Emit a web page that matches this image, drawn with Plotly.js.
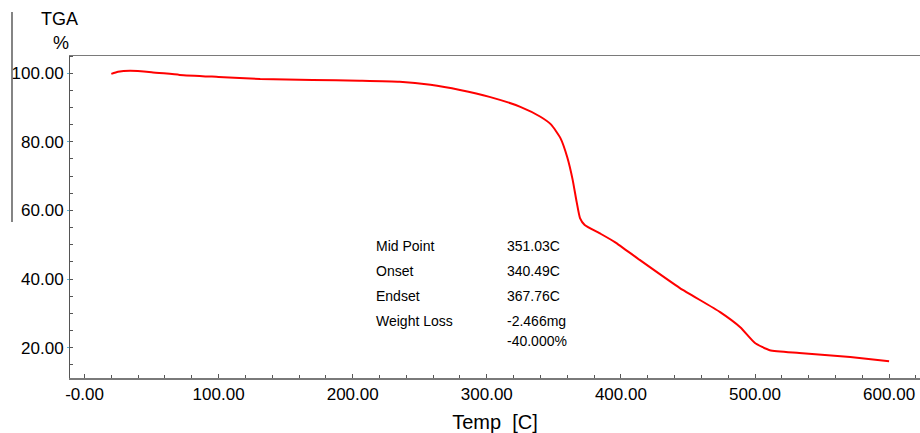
<!DOCTYPE html>
<html><head><meta charset="utf-8">
<script src="https://cdn.plot.ly/plotly-3.0.1.min.js"></script>
<style>html,body{margin:0;padding:0;background:#fff}#chart{width:920px;height:433px}</style>
</head><body><div id="chart"></div>
<script>
const tempC = [20, 25, 34, 50, 71, 100, 131, 170, 205, 235, 258, 280, 302, 325, 340, 348, 355, 360, 364, 367, 369.5, 373, 384, 395.5, 414, 444, 474, 489, 500, 511, 533, 571, 600];
const weightPct = [99.8, 100.4, 100.7, 100.3, 99.5, 98.9, 98.3, 98.0, 97.8, 97.5, 96.6, 95.1, 93.1, 90.2, 87.3, 85.0, 81.0, 75.5, 69.0, 62.5, 57.8, 55.8, 53.4, 50.8, 45.6, 37.4, 30.4, 26.0, 21.4, 19.3, 18.5, 17.3, 16.1];
const xTickVals = [0, 100, 200, 300, 400, 500, 600];
const xTickText = ["-0.00", "100.00", "200.00", "300.00", "400.00", "500.00", "600.00"];
const yTickVals = [20, 40, 60, 80, 100];
const yTickText = ["20.00", "40.00", "60.00", "80.00", "100.00"];
const infoLabels = ["Mid Point", "Onset", "Endset", "Weight Loss", ""];
const infoValues = ["351.03C", "340.49C", "367.76C", "-2.466mg", "-40.000%"];

const W = 920, H = 433, L = 70, R = 0, T = 56, B = 55;
const pw = W - L - R, ph = H - T - B;
const px = x => (x - L) / pw;
const py = y => 1 - (y - T) / ph;

const font = {family: "Liberation Sans, Arial, sans-serif", color: "#000"};
const annotations = [];
const rowY = [246, 271, 296, 321, 341];
infoLabels.forEach((t, i) => {
  if (t) annotations.push({xref: "paper", yref: "paper", x: px(374), y: py(rowY[i]), xanchor: "left", yanchor: "middle", text: t, showarrow: false, font: Object.assign({size: 14}, font)});
  annotations.push({xref: "paper", yref: "paper", x: px(505), y: py(rowY[i]), xanchor: "left", yanchor: "middle", text: infoValues[i], showarrow: false, font: Object.assign({size: 14}, font)});
});
annotations.push({xref: "paper", yref: "paper", x: px(59), y: py(19), xanchor: "center", yanchor: "middle", text: "TGA", showarrow: false, font: Object.assign({size: 18}, font)});
annotations.push({xref: "paper", yref: "paper", x: px(61), y: py(43), xanchor: "center", yanchor: "middle", text: "%", showarrow: false, font: Object.assign({size: 18}, font)});

Plotly.newPlot("chart", [{
  x: tempC, y: weightPct, type: "scatter", mode: "lines",
  line: {color: "#ff0000", width: 2, shape: "spline", smoothing: 0.5},
  hoverinfo: "skip"
}], {
  width: W, height: H,
  margin: {l: L, r: R, t: T, b: B, pad: 0},
  paper_bgcolor: "#fff", plot_bgcolor: "#fff",
  showlegend: false,
  font: Object.assign({size: 17}, font),
  xaxis: {
    range: [(L - 84.5) / 1.341, (W - 84.5) / 1.341],
    tickvals: xTickVals, ticktext: xTickText,
    ticks: "inside", ticklen: 4, tickcolor: "#555", tickwidth: 1,
    minor: {dtick: 20, ticks: "inside", ticklen: 3, tickcolor: "#555"},
    showgrid: false, zeroline: false,
    showline: true, linecolor: "#7a7a7a", linewidth: 1.5, mirror: true,
    tickfont: Object.assign({size: 17}, font),
    title: {text: "Temp  [C]", font: Object.assign({size: 20}, font), standoff: 12}
  },
  yaxis: {
    range: [11.2, 105.0],
    tickvals: yTickVals, ticktext: yTickText,
    ticks: "outside", ticklen: 2, tickcolor: "#5ab4d6", tickwidth: 1,
    minor: {dtick: 5, ticks: "inside", ticklen: 3, tickcolor: "#555"},
    showgrid: false, zeroline: false,
    showline: true, linecolor: "#555", linewidth: 1,
    tickfont: Object.assign({size: 17}, font)
  },
  shapes: [{type: "line", xref: "paper", yref: "paper", x0: px(12), x1: px(12), y0: py(12), y1: py(222), line: {color: "#333", width: 1.2}}],
  annotations: annotations
}, {displayModeBar: false, staticPlot: true});
</script></body></html>
